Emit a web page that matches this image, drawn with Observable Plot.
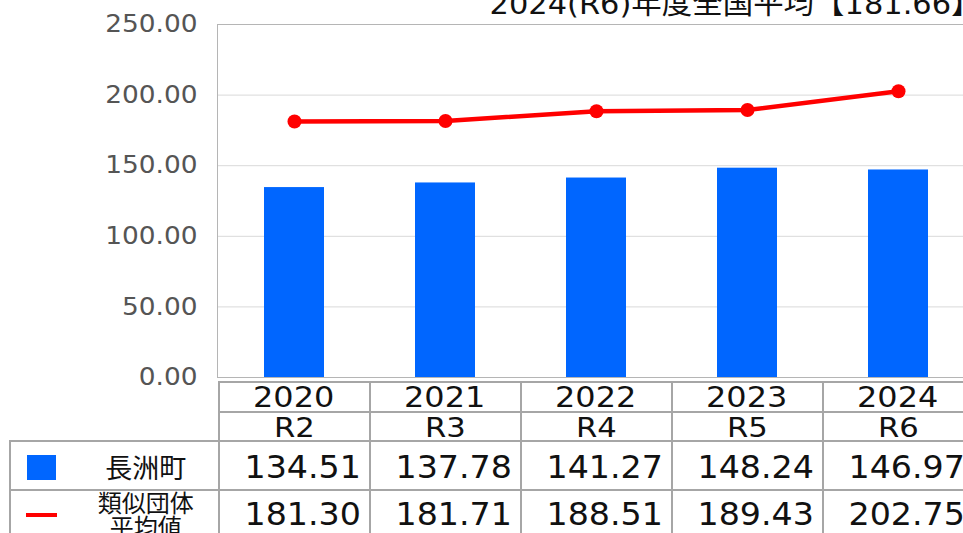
<!DOCTYPE html>
<html>
<head>
<meta charset="utf-8">
<script src="https://cdn.jsdelivr.net/npm/d3@7"></script>
<script src="https://cdn.jsdelivr.net/npm/@observablehq/plot@0.6"></script>
<style>
  html, body { margin: 0; padding: 0; overflow: hidden; background: #fff; }
  #wrap { position: relative; width: 980px; height: 533px; overflow: hidden; font-family: "DejaVu Sans", "Noto Sans CJK JP", sans-serif; }
  #title { position: absolute; right: -2px; top: -10px; font-size: 29px; line-height: 29px; color: #111; white-space: nowrap; transform: scaleX(1.05); transform-origin: right center; }
  .hl, .vl { position: absolute; background: #a6a6a6; }
  .cell { position: absolute; display: flex; align-items: center; box-sizing: border-box; color: #111; }
  .cell span { display: inline-block; white-space: nowrap; }
  .cjk { font-family: "Noto Sans CJK JP", sans-serif; }
</style>
</head>
<body>
<div id="wrap"></div>
<script>
const years = ["2020", "2021", "2022", "2023", "2024"];
const eras = ["R2", "R3", "R4", "R5", "R6"];
const town = [134.51, 137.78, 141.27, 148.24, 146.97];
const similar = [181.30, 181.71, 188.51, 189.43, 202.75];
const yTicks = [0, 50, 100, 150, 200, 250];
const seriesNames = ["長洲町", "類似団体<br>平均値"];
const titleText = "2024(R6)年度全国平均【181.66】";

const rows = years.map((y, i) => ({year: y, town: town[i], similar: similar[i]}));
const fmt = d3.format(".2f");

const wrap = document.getElementById("wrap");

const chart = Plot.plot({
  width: 980,
  height: 382,
  marginTop: 24,
  marginBottom: 5,
  marginLeft: 217,
  marginRight: 4,
  style: {fontFamily: "DejaVu Sans", fontSize: "24px", color: "#555", background: "transparent", overflow: "visible"},
  x: {domain: years, paddingInner: 0.6, paddingOuter: 0.3, axis: null},
  y: {domain: [0, 250], axis: null},
  marks: [
    Plot.gridY(yTicks, {stroke: "#d9d9d9", strokeOpacity: 1}),
    Plot.barY(rows, {x: "year", y: "town", fill: "#0066ff"}),
    Plot.frame({stroke: "#b5b5b5"}),
    Plot.line(rows, {x: "year", y: "similar", stroke: "#ff0000", strokeWidth: 4.5}),
    Plot.dot(rows, {x: "year", y: "similar", r: 7, fill: "#ff0000"}),
    Plot.axisY(yTicks, {tickFormat: fmt, tickSize: 0, tickPadding: 20, fill: "#555", fontSize: 24, label: null})
  ]
});
chart.style.position = "absolute";
chart.style.left = "0px";
chart.style.top = "0px";
wrap.appendChild(chart);

// stretch y tick labels horizontally
chart.querySelectorAll("text").forEach(t => {
  try {
    const L = t.getComputedTextLength();
    if (L > 0) { t.setAttribute("textLength", L * 1.1); t.setAttribute("lengthAdjust", "spacingAndGlyphs"); }
  } catch (e) {}
});

// title
const title = document.createElement("div");
title.id = "title";
title.textContent = titleText;
wrap.appendChild(title);

// table geometry from the x scale
const xs = chart.scale("x");
const step = xs.step || (xs.range[1] - xs.range[0]) / years.length;
const bw = xs.bandwidth || step * 0.4;
const colLeft = years.map(y => xs.apply(y) - (step - bw) / 2);
const tableRight = colLeft[years.length - 1] + step;
const legendLeft = 10;
const rowTops = [382, 412, 441, 490];
const rowBottoms = [412, 441, 490, 542];
const lineW = 2;

function hline(y, x0, x1) {
  const d = document.createElement("div");
  d.className = "hl";
  Object.assign(d.style, {left: x0 - 1 + "px", top: y - 1 + "px", width: (x1 - x0 + 2) + "px", height: lineW + "px"});
  wrap.appendChild(d);
}
function vline(x, y0, y1) {
  const d = document.createElement("div");
  d.className = "vl";
  Object.assign(d.style, {left: x - 1 + "px", top: y0 - 1 + "px", width: lineW + "px", height: (y1 - y0 + 2) + "px"});
  wrap.appendChild(d);
}
hline(rowTops[0], colLeft[0], tableRight);
hline(rowTops[1], colLeft[0], tableRight);
hline(rowTops[2], legendLeft, tableRight);
hline(rowTops[3], legendLeft, tableRight);
colLeft.forEach(x => vline(x, rowTops[0], 540));
vline(tableRight, rowTops[0], 540);
vline(legendLeft, rowTops[2], 540);

function cell(x, w, r, html, opts) {
  const d = document.createElement("div");
  d.className = "cell";
  Object.assign(d.style, {left: x + "px", top: rowTops[r] + "px", width: w + "px", height: (rowBottoms[r] - rowTops[r]) + "px",
    justifyContent: opts.align === "right" ? "flex-end" : "center", paddingRight: (opts.pad || 0) + "px"});
  const s = document.createElement("span");
  s.innerHTML = html;
  s.style.fontSize = opts.size + "px";
  s.style.lineHeight = (opts.lh || opts.size) + "px";
  if (opts.sx) { s.style.transform = `scaleX(${opts.sx})`; s.style.transformOrigin = opts.align === "right" ? "right center" : "center center"; }
  if (opts.cls) s.className = opts.cls;
  if (opts.ta) s.style.textAlign = opts.ta;
  if (opts.dy) { s.style.position = "relative"; s.style.top = opts.dy + "px"; }
  d.appendChild(s);
  wrap.appendChild(d);
}

years.forEach((y, i) => {
  cell(colLeft[i], step, 0, y, {size: 28, sx: 1.14, dy: 1});
  cell(colLeft[i], step, 1, eras[i], {size: 26, sx: 1.18, dy: 1});
  cell(colLeft[i], step, 2, fmt(town[i]), {size: 32, sx: 1.04, align: "right", pad: 9, dy: 1});
  cell(colLeft[i], step, 3, fmt(similar[i]), {size: 32, sx: 1.04, align: "right", pad: 9, dy: -2});
});

// legend column
const iconW = 63;
const sq = document.createElement("div");
Object.assign(sq.style, {position: "absolute", left: legendLeft + iconW / 2 - 14.5 + "px", top: (rowTops[2] + rowBottoms[2]) / 2 - 11 + "px", width: "29px", height: "25px", background: "#0066ff"});
wrap.appendChild(sq);
const ln = document.createElement("div");
Object.assign(ln.style, {position: "absolute", left: legendLeft + iconW / 2 - 15.5 + "px", top: "513px", width: "31px", height: "4px", background: "#ff0000"});
wrap.appendChild(ln);
cell(legendLeft + iconW, colLeft[0] - legendLeft - iconW, 2, seriesNames[0], {size: 27, cls: "cjk", dy: 1});
cell(legendLeft + iconW, colLeft[0] - legendLeft - iconW, 3, seriesNames[1], {size: 24, lh: 24, cls: "cjk", ta: "center", dy: -2});
</script>
</body>
</html>
